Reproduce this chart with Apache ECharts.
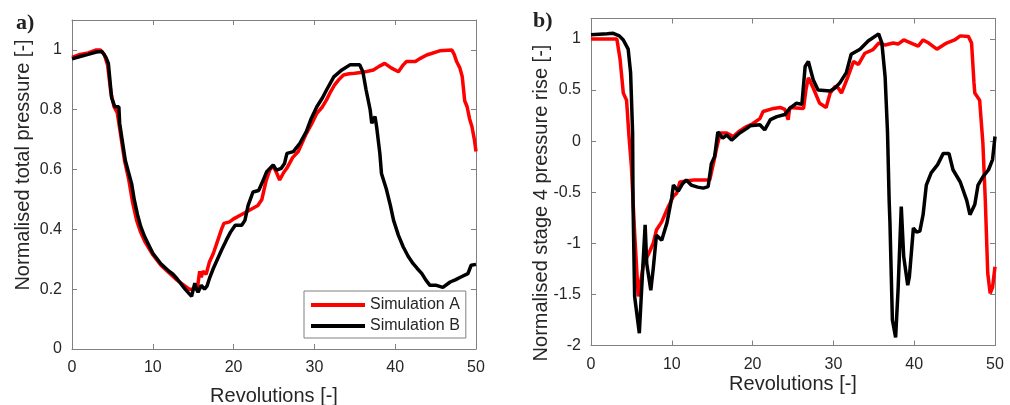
<!DOCTYPE html>
<html>
<head>
<meta charset="utf-8">
<script src="https://cdn.jsdelivr.net/npm/echarts@6/dist/echarts.min.js"></script>
<style>html,body{margin:0;padding:0;background:#fff;}#c{width:1010px;height:405px;}</style>
</head>
<body>
<div id="c"></div>
<script>
const seriesNames = ['Simulation A', 'Simulation B'];
const xTicks = [0, 10, 20, 30, 40, 50];

const totalA = [[0,0.975],[1,0.985],[2,0.99],[3,1.0],[3.5,1.0],[4,0.985],[4.4,0.95],[4.8,0.86],[5.2,0.81],[5.6,0.79],[6,0.72],[6.5,0.63],[7,0.57],[7.5,0.49],[8,0.43],[8.5,0.39],[9,0.36],[10,0.315],[11,0.28],[12,0.255],[13,0.23],[14,0.21],[14.5,0.2],[15,0.2],[15.3,0.21],[15.5,0.2],[15.8,0.26],[16,0.24],[16.2,0.26],[16.6,0.25],[17,0.29],[17.5,0.32],[18,0.36],[18.5,0.4],[18.8,0.42],[19.5,0.425],[20,0.435],[21,0.45],[22,0.465],[23,0.48],[23.5,0.5],[24,0.56],[24.5,0.6],[24.9,0.612],[25.3,0.59],[25.7,0.565],[26.2,0.59],[26.6,0.605],[27.3,0.64],[28,0.66],[28.5,0.69],[29,0.72],[29.7,0.755],[30.3,0.788],[31,0.81],[31.5,0.833],[32,0.86],[32.5,0.883],[33,0.9],[33.6,0.916],[34.3,0.92],[35,0.922],[36,0.925],[37.3,0.933],[38,0.945],[38.7,0.955],[39.5,0.94],[40.4,0.927],[41,0.95],[41.4,0.961],[42.5,0.961],[43,0.97],[43.9,0.983],[45.5,0.997],[47,1.0],[47.3,0.985],[47.6,0.961],[48,0.94],[48.3,0.91],[48.6,0.83],[48.9,0.81],[49.2,0.77],[49.5,0.743],[49.8,0.7],[50,0.66]];

const totalB = [[0,0.97],[1,0.978],[2,0.985],[3,0.993],[3.7,0.995],[4.2,0.975],[4.5,0.955],[4.9,0.84],[5.3,0.81],[5.8,0.81],[5.9,0.755],[6.2,0.7],[6.6,0.63],[7,0.59],[7.4,0.55],[7.7,0.5],[8.1,0.45],[8.5,0.41],[9,0.375],[10,0.32],[11,0.285],[12,0.26],[12.5,0.25],[13,0.235],[14,0.2],[14.5,0.185],[14.8,0.176],[15,0.18],[15.2,0.22],[15.4,0.2],[15.6,0.19],[16,0.213],[16.4,0.2],[16.7,0.21],[17,0.235],[17.5,0.27],[18,0.3],[18.5,0.33],[19.1,0.364],[19.6,0.39],[20.2,0.414],[21,0.414],[21.4,0.43],[21.8,0.48],[22.4,0.525],[23.1,0.53],[23.5,0.554],[24.1,0.593],[24.9,0.615],[25.3,0.598],[25.9,0.604],[26.3,0.62],[26.6,0.654],[27.4,0.66],[28.2,0.688],[29,0.727],[29.6,0.77],[30.3,0.81],[31,0.84],[31.5,0.866],[32.4,0.91],[33.4,0.933],[34.4,0.95],[35.6,0.95],[36,0.927],[36.4,0.866],[36.9,0.8],[37.1,0.755],[37.5,0.777],[37.7,0.743],[38.1,0.654],[38.3,0.587],[38.9,0.535],[39.4,0.48],[39.8,0.43],[40.4,0.38],[41,0.341],[41.6,0.31],[42.2,0.286],[42.7,0.27],[43.3,0.252],[43.8,0.23],[44.3,0.213],[45.1,0.213],[45.9,0.206],[46.8,0.224],[47.5,0.232],[48,0.239],[49,0.252],[49.4,0.28],[50,0.283]];

const stageA = [[0,1.0],[1,1.0],[2,1.0],[3.2,1.0],[3.6,0.8],[4.0,0.47],[4.4,0.4],[4.7,0.05],[5.0,-0.25],[5.4,-0.9],[5.85,-1.52],[6.2,-1.35],[6.5,-1.2],[7.1,-1.11],[7.7,-1.0],[8.1,-0.87],[8.75,-0.79],[9.4,-0.67],[10.2,-0.54],[10.6,-0.51],[11,-0.4],[11.8,-0.39],[12.7,-0.38],[13.7,-0.38],[14.7,-0.38],[15.2,-0.2],[15.6,-0.05],[16,0.08],[16.8,0.08],[17.6,0.045],[18.4,0.1],[19.2,0.14],[20,0.17],[20.9,0.22],[21.3,0.29],[22.6,0.32],[23.4,0.33],[24,0.31],[24.2,0.31],[24.4,0.21],[24.6,0.33],[24.8,0.34],[26.3,0.32],[26.6,0.5],[26.9,0.62],[27.5,0.52],[28.3,0.37],[29.1,0.33],[29.6,0.47],[30.2,0.535],[30.6,0.52],[31.0,0.47],[31.8,0.63],[32.5,0.78],[33.1,0.75],[33.9,0.86],[34.9,0.895],[35.6,0.96],[36.4,0.94],[37.4,0.96],[38,0.95],[38.7,0.99],[39.9,0.95],[40.5,0.93],[41.1,0.99],[41.8,0.96],[42.8,0.9],[44,0.96],[45,0.99],[45.7,1.03],[46.7,1.025],[47.1,0.96],[47.4,0.57],[47.5,0.47],[48.1,0.4],[48.5,-0.02],[48.8,-0.58],[49.1,-1.29],[49.4,-1.49],[49.7,-1.43],[50,-1.23]];

const stageB = [[0,1.04],[1,1.045],[2,1.05],[2.75,1.055],[3.5,1.03],[4.0,0.99],[4.6,0.9],[4.9,0.67],[5.15,0.08],[5.2,-0.6],[5.4,-1.52],[5.98,-1.88],[6.3,-1.4],[6.7,-0.82],[6.9,-1.2],[7.4,-1.46],[7.7,-1.25],[8.1,-0.92],[8.75,-0.97],[9.4,-0.8],[10,-0.55],[10.2,-0.43],[10.8,-0.49],[11.3,-0.42],[11.8,-0.38],[12.4,-0.43],[13.2,-0.45],[13.9,-0.46],[14.5,-0.445],[14.9,-0.22],[15.3,-0.15],[15.7,0.09],[16.3,0.03],[16.8,0.06],[17.4,0.01],[18.4,0.08],[19.2,0.12],[19.7,0.15],[20.9,0.16],[21.5,0.11],[22.2,0.21],[23,0.24],[24,0.26],[24.6,0.32],[25.4,0.37],[26.1,0.36],[26.5,0.73],[26.9,0.78],[27.5,0.6],[28.1,0.5],[29.6,0.49],[30.2,0.52],[30.8,0.57],[31.6,0.67],[32.2,0.85],[33.3,0.9],[34.3,0.98],[35.6,1.05],[36.0,0.96],[36.4,0.63],[36.7,0.08],[36.9,-0.58],[37.0,-0.8],[37.3,-1.75],[37.7,-1.92],[38.0,-1.46],[38.4,-0.64],[38.7,-1.13],[39.2,-1.41],[39.4,-1.33],[39.9,-0.85],[40.3,-0.89],[40.7,-0.88],[41.1,-0.72],[41.5,-0.43],[42.1,-0.31],[42.9,-0.23],[43.6,-0.12],[44.3,-0.12],[44.8,-0.28],[45.7,-0.4],[46.5,-0.58],[46.9,-0.72],[47.5,-0.62],[47.9,-0.43],[48.5,-0.35],[49.2,-0.28],[49.7,-0.18],[50,0.045]];

const FONT = 'Liberation Sans, Arial, sans-serif';
const AXC = '#808080';
const LBC = '#262626';

function xAx(grid, pos, show) {
  return {
    type: 'value', gridIndex: grid, position: pos, min: 0, max: 50, interval: 10,
    axisLine: { show: true, onZero: false, lineStyle: { color: AXC, width: 1 } },
    axisTick: { show: true, inside: true, length: 5, lineStyle: { color: AXC } },
    axisLabel: { show: show, margin: 11, color: LBC, fontSize: 16, fontFamily: FONT },
    splitLine: { show: false }
  };
}
function yAx(grid, pos, show, min, max, interval) {
  return {
    type: 'value', gridIndex: grid, position: pos, min: min, max: max, interval: interval,
    axisLine: { show: true, onZero: false, lineStyle: { color: AXC, width: 1 } },
    axisTick: { show: true, inside: true, length: 5, lineStyle: { color: AXC } },
    axisLabel: { show: show, margin: 10, color: LBC, fontSize: 16, fontFamily: FONT, showMaxLabel: false },
    splitLine: { show: false }
  };
}
function ser(name, data, color, xi, yi, z) {
  return {
    name: name, type: 'line', data: data, xAxisIndex: xi, yAxisIndex: yi,
    showSymbol: false, symbol: 'none', z: z, clip: true,
    lineStyle: { color: color, width: 3.5 }, itemStyle: { color: color },
    emphasis: { disabled: true }, animation: false
  };
}

const chart = echarts.init(document.getElementById('c'), null, { renderer: 'canvas' });
chart.setOption({
  animation: false,
  backgroundColor: '#ffffff',
  grid: [
    { left: 72, top: 20, width: 404, height: 329, containLabel: false },
    { left: 591, top: 18.5, width: 404, height: 327, containLabel: false }
  ],
  xAxis: [xAx(0, 'bottom', true), xAx(0, 'top', false), xAx(1, 'bottom', true), xAx(1, 'top', false)],
  yAxis: [yAx(0, 'left', true, 0, 1.1, 0.2), yAx(0, 'right', false, 0, 1.1, 0.2),
          yAx(1, 'left', true, -2, 1.2, 0.5), yAx(1, 'right', false, -2, 1.2, 0.5)],
  legend: {
    data: seriesNames.map(n => ({ name: n, icon: 'rect' })),
    orient: 'vertical', left: 304, top: 291,
    itemWidth: 54, itemHeight: 4, itemGap: 5,
    padding: [6, 6, 4, 7],
    backgroundColor: '#ffffff', borderColor: '#808080', borderWidth: 1, borderRadius: 0,
    textStyle: { fontSize: 16, fontFamily: FONT, color: LBC, padding: [0, 0, 0, 0] },
    selectedMode: false
  },
  graphic: [
    { type: 'text', left: 16, top: 12, style: { text: 'a)', font: 'bold 22px "Liberation Serif", serif', fill: '#222' } },
    { type: 'text', left: 533, top: 10, style: { text: 'b)', font: 'bold 22px "Liberation Serif", serif', fill: '#222' } },
    { type: 'text', x: 23, y: 165, rotation: Math.PI / 2, style: { text: 'Normalised total pressure [-]', font: '20px ' + FONT, fill: LBC, align: 'center', verticalAlign: 'middle' } },
    { type: 'text', x: 541, y: 203, rotation: Math.PI / 2, style: { text: 'Normalised stage 4 pressure rise [-]', font: '20px ' + FONT, fill: LBC, align: 'center', verticalAlign: 'middle' } },
    { type: 'text', x: 274, y: 396, style: { text: 'Revolutions [-]', font: '20px ' + FONT, fill: LBC, align: 'center', verticalAlign: 'middle' } },
    { type: 'text', x: 793, y: 384, style: { text: 'Revolutions [-]', font: '20px ' + FONT, fill: LBC, align: 'center', verticalAlign: 'middle' } }
  ],
  series: [
    ser(seriesNames[0], totalA, '#ff0000', 0, 0, 2),
    ser(seriesNames[1], totalB, '#000000', 0, 0, 3),
    ser(seriesNames[0], stageA, '#ff0000', 2, 2, 2),
    ser(seriesNames[1], stageB, '#000000', 2, 2, 3)
  ]
});
</script>
</body>
</html>
